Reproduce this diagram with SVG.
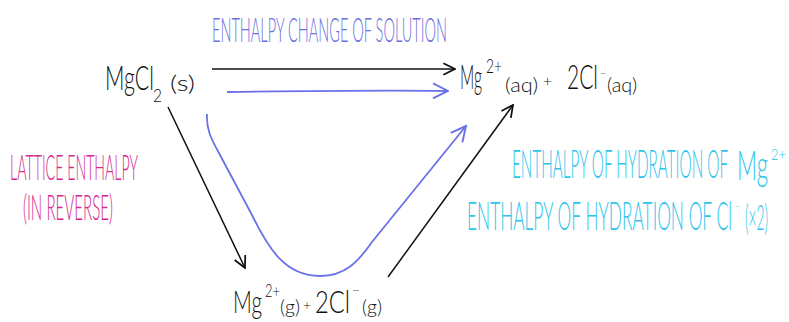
<svg xmlns="http://www.w3.org/2000/svg" width="789" height="322" viewBox="0 0 789 322">
<defs>
<style>
text{font-family:Lato,"Liberation Sans","DejaVu Sans",sans-serif;font-weight:300}
.k{fill:#111}
.b{fill:#6a6fe0}
.m{fill:#d3278b}
.c{fill:#2ec3ea}
.lk{stroke:#111;stroke-width:1.5;fill:none}
.lb{stroke:#6a72e6;stroke-width:1.8;fill:none}
</style>
<marker id="ak" markerUnits="userSpaceOnUse" markerWidth="14" markerHeight="14" refX="11" refY="6" orient="auto" viewBox="0 0 12 12">
<path d="M1,1 L11,6 L1,11" stroke="#111" stroke-width="1.5" fill="none"/>
</marker>
<marker id="ab" markerUnits="userSpaceOnUse" markerWidth="18" markerHeight="18" refX="11" refY="6" orient="auto" viewBox="0 0 12 12">
<path d="M1,1 L11,6 L1,11" stroke="#6a72e6" stroke-width="1.3" fill="none"/>
</marker>
</defs>
<rect width="789" height="322" fill="#fff"/>

<g id="connectors">
<line class="lk" x1="212" y1="69" x2="455" y2="69" marker-end="url(#ak)"/>
<line class="lk" x1="168" y1="107" x2="245" y2="268" marker-end="url(#ak)"/>
<line class="lk" x1="388" y1="277" x2="513" y2="105" marker-end="url(#ak)"/>
<path class="lb" d="M227,92 C300,91 380,90 448,91" marker-end="url(#ab)"/>
<path class="lb" d="M207,114 C206,130 212,140 220,155 L252,215 C268,248 285,276 320,276 C345,276 358,262 372,242 L466,126" marker-end="url(#ab)"/>
</g>

<g id="title">
<text class="b" transform="translate(212,42) scale(1,2.2)" font-size="15" textLength="235" lengthAdjust="spacingAndGlyphs">ENTHALPY CHANGE OF SOLUTION</text>
</g>

<g id="node-solid">
<text class="k" transform="translate(105,90) scale(1,1.6)" font-size="21" textLength="49" lengthAdjust="spacingAndGlyphs">MgCl</text>
<text class="k" transform="translate(153,102) scale(1,1.15)" font-size="16" textLength="9" lengthAdjust="spacingAndGlyphs">2</text>
<text class="k" transform="translate(170,91) scale(1,0.9)" font-size="23" textLength="25" lengthAdjust="spacingAndGlyphs">(s)</text>
</g>

<g id="node-aq">
<text class="k" transform="translate(460,89) scale(1,2.1)" font-size="16" textLength="22" lengthAdjust="spacingAndGlyphs">Mg</text>
<text class="k" transform="translate(486,73) scale(1,1.4)" font-size="14" textLength="16" lengthAdjust="spacingAndGlyphs">2+</text>
<text class="k" transform="translate(505,92)" font-size="20" textLength="33" lengthAdjust="spacingAndGlyphs">(aq)</text>
<text class="k" transform="translate(543,87)" font-size="15" textLength="9" lengthAdjust="spacingAndGlyphs">+</text>
<text class="k" transform="translate(567,89) scale(1,1.6)" font-size="21" textLength="31" lengthAdjust="spacingAndGlyphs">2Cl</text>
<text class="k" transform="translate(600,77)" font-size="10" textLength="6" lengthAdjust="spacingAndGlyphs">−</text>
<text class="k" transform="translate(607,92)" font-size="19" textLength="30" lengthAdjust="spacingAndGlyphs">(aq)</text>
</g>

<g id="node-gas">
<text class="k" transform="translate(233,313) scale(1,1.5)" font-size="21" textLength="29" lengthAdjust="spacingAndGlyphs">Mg</text>
<text class="k" transform="translate(265,297) scale(1,1.3)" font-size="13" textLength="15" lengthAdjust="spacingAndGlyphs">2+</text>
<text class="k" transform="translate(280,314)" font-size="19" textLength="20" lengthAdjust="spacingAndGlyphs">(g)</text>
<text class="k" transform="translate(303,310)" font-size="14" textLength="8" lengthAdjust="spacingAndGlyphs">+</text>
<text class="k" transform="translate(315,313) scale(1,1.4)" font-size="23" textLength="35" lengthAdjust="spacingAndGlyphs">2Cl</text>
<text class="k" transform="translate(352,294)" font-size="12" textLength="8" lengthAdjust="spacingAndGlyphs">−</text>
<text class="k" transform="translate(362,314)" font-size="19" textLength="20" lengthAdjust="spacingAndGlyphs">(g)</text>
</g>

<g id="label-lattice">
<text class="m" transform="translate(10,180) scale(1,2.5)" font-size="14.3" textLength="128" lengthAdjust="spacingAndGlyphs">LATTICE ENTHALPY</text>
<text class="m" transform="translate(23,220) scale(1,2.35)" font-size="15" textLength="90" lengthAdjust="spacingAndGlyphs">(IN REVERSE)</text>
</g>

<g id="label-hydration">
<text class="c" transform="translate(512,178) scale(1,2.6)" font-size="15" textLength="216" lengthAdjust="spacingAndGlyphs">ENTHALPY OF HYDRATION OF</text>
<text class="c" transform="translate(737,180) scale(1,2)" font-size="21" textLength="31" lengthAdjust="spacingAndGlyphs">Mg</text>
<text class="c" transform="translate(771,160) scale(1,1.2)" font-size="13" textLength="15" lengthAdjust="spacingAndGlyphs">2+</text>
<text class="c" transform="translate(467,230) scale(1,2.45)" font-size="16" textLength="265" lengthAdjust="spacingAndGlyphs">ENTHALPY OF HYDRATION OF Cl</text>
<text class="c" transform="translate(735,210)" font-size="9" textLength="5" lengthAdjust="spacingAndGlyphs">−</text>
<text class="c" transform="translate(745,230) scale(1,2.7)" font-size="13" textLength="23" lengthAdjust="spacingAndGlyphs">(×2)</text>
</g>
</svg>
